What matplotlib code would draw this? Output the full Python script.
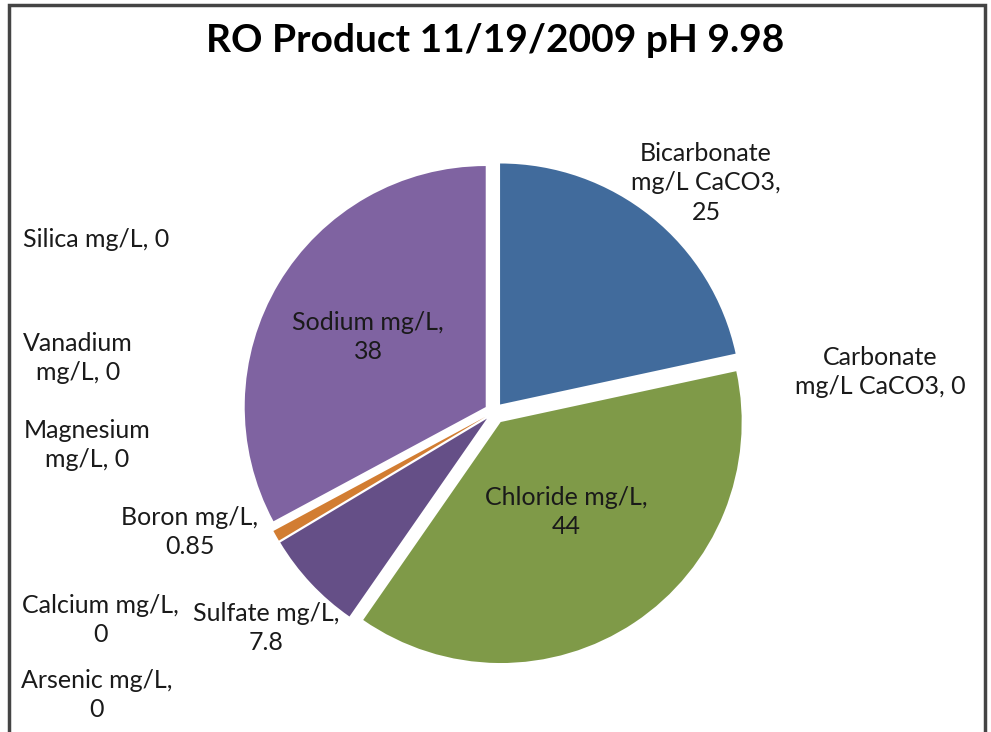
import matplotlib
matplotlib.use("Agg")
import matplotlib.pyplot as plt
from matplotlib.patches import Rectangle

# Data (clockwise from 12 o'clock)
names = ["Bicarbonate mg/L CaCO3", "Carbonate mg/L CaCO3", "Chloride mg/L",
         "Sulfate mg/L", "Arsenic mg/L", "Calcium mg/L", "Boron mg/L",
         "Magnesium mg/L", "Vanadium mg/L", "Silica mg/L", "Sodium mg/L"]
values = [25, 0, 44, 7.8, 0, 0, 0.85, 0, 0, 0, 38]
colors = ["#416b9c", "#c0504d", "#7f9a48", "#654f87", "#4aacc6", "#f79646",
          "#d27d32", "#2c4d75", "#772c2a", "#5f7530", "#7f63a1"]

# label text, wrapped the way Excel wrapped it
label_text = [
    "Bicarbonate\nmg/L CaCO3,\n25",
    "Carbonate\nmg/L CaCO3, 0",
    "Chloride mg/L,\n44",
    "Sulfate mg/L,\n7.8",
    "Arsenic mg/L,\n0",
    "Calcium mg/L,\n0",
    "Boron mg/L,\n0.85",
    "Magnesium\nmg/L, 0",
    "Vanadium\nmg/L, 0",
    "Silica mg/L, 0",
    "Sodium mg/L,\n38",
]
# label centres in pixels of the 991x732 canvas
label_px = [(706, 183), (880, 372), (566, 512), (266, 628), (97, 695),
            (100, 620), (190, 532), (87, 445), (78, 358), (96, 240), (368, 337)]

W, H = 991, 732
CX, CY, R = 494, 412, 241

plt.rcParams["font.family"] = ["Lato", "DejaVu Sans"]

fig = plt.figure(figsize=(W / 100, H / 100), dpi=100)
ax = fig.add_axes([0, 0, 1, 1])

explode = [0.04] * len(values)
explode[2] = 0.05
ax.pie(values, colors=colors, startangle=90, counterclock=False,
       explode=explode, radius=1.0, wedgeprops=dict(linewidth=0))
ax.set_aspect("auto")
ax.set_xlim(-CX / R, (W - CX) / R)
ax.set_ylim(-(H - CY) / R, CY / R)
ax.axis("off")

for txt, (px, py) in zip(label_text, label_px):
    fig.text(px / W, 1 - py / H, txt, ha="center", va="center",
             fontsize=18, linespacing=1.35, color="#1a1a1a")

fig.text(495 / W, 1 - 40 / H, "RO Product 11/19/2009 pH 9.98",
         ha="center", va="center", fontsize=28, fontweight="bold")

# chart frame
fig.patches.append(Rectangle((9 / W, -0.05), (985 - 9) / W, 1.05 - 5 / H,
                             transform=fig.transFigure, fill=False,
                             edgecolor="#444444", linewidth=2.5))

fig.savefig("out.png", dpi=100, facecolor="white")
